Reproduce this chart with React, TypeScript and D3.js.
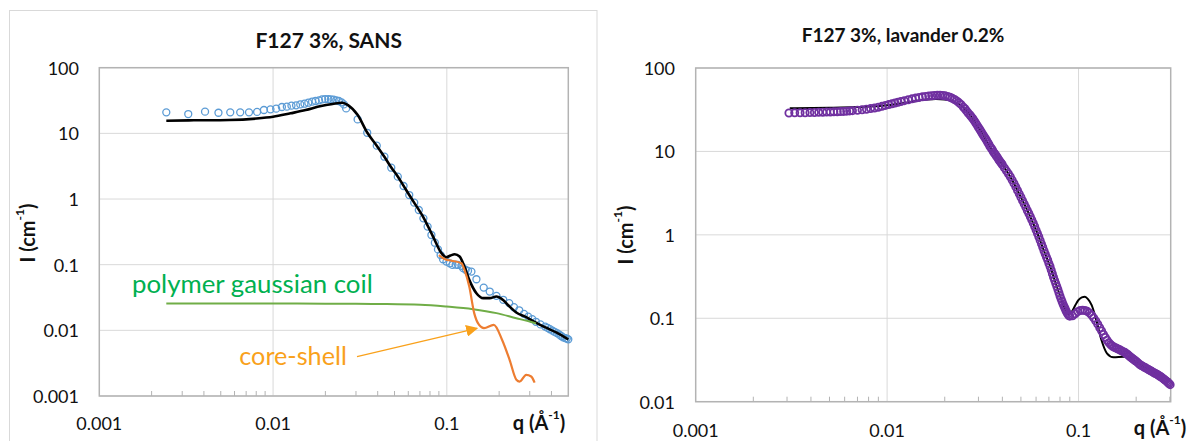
import React from "react";
import * as d3 from "d3";

// ---------- text / ticks ----------
const leftTitle = "F127 3%, SANS";
const rightTitle = "F127 3%, lavander 0.2%";
const xTickValues = [0.001, 0.01, 0.1];
const xTickLabels = ["0.001", "0.01", "0.1"];
const leftYTickValues = [100, 10, 1, 0.1, 0.01, 0.001];
const leftYTickLabels = ["100", "10", "1", "0.1", "0.01", "0.001"];
const rightYTickValues = [100, 10, 1, 0.1, 0.01];
const rightYTickLabels = ["100", "10", "1", "0.1", "0.01"];
const coilLabel = "polymer gaussian coil";
const coreLabel = "core-shell";

// ---------- left chart: SANS data ----------
const sansDataQ = [0.00243, 0.00325, 0.00406, 0.00485, 0.00567, 0.00647, 0.00727, 0.00809, 0.00886, 0.00966, 0.01042, 0.01124, 0.012, 0.01276, 0.01356, 0.01434, 0.01516, 0.01595, 0.01677, 0.01756, 0.01838, 0.01914, 0.01994, 0.0208, 0.0215, 0.0223, 0.0231, 0.0239, 0.0248, 0.02555, 0.02633, 0.03066, 0.03481, 0.03951, 0.04372, 0.04788, 0.05221, 0.05634, 0.06076, 0.06491, 0.06898, 0.07329, 0.07749, 0.08151, 0.08532, 0.0889, 0.0921, 0.0951, 0.0995, 0.104, 0.1077, 0.1125, 0.116, 0.1213, 0.124, 0.1284, 0.1324, 0.1385, 0.148, 0.163, 0.1765, 0.193, 0.2111, 0.2285, 0.2433, 0.261, 0.278, 0.2938, 0.31, 0.3257, 0.3457, 0.3678, 0.38, 0.392, 0.405, 0.4168, 0.43, 0.444, 0.455, 0.467, 0.48, 0.49, 0.5];
const sansDataI = [20.9, 19.7, 21.4, 20.6, 20.9, 20.9, 20.9, 21.2, 22.7, 23.2, 23.8, 25.2, 25.5, 26.4, 26.7, 27.6, 28.3, 29.3, 30.4, 31.1, 31.8, 32.9, 33.3, 33.3, 32.9, 32.6, 31.8, 31.1, 29.7, 27.6, 24.0, 16.3, 10.2, 6.49, 4.41, 3.0, 2.19, 1.58, 1.15, 0.88, 0.68, 0.508, 0.38, 0.283, 0.216, 0.171, 0.14, 0.121, 0.1115, 0.105, 0.0993, 0.1, 0.099, 0.096, 0.0885, 0.0834, 0.0805, 0.0785, 0.06, 0.0448, 0.039, 0.0335, 0.0292, 0.026, 0.0225, 0.0202, 0.0178, 0.0162, 0.0148, 0.0135, 0.0123, 0.0114, 0.0109, 0.0104, 0.0099, 0.0095, 0.0091, 0.0086, 0.0082, 0.0078, 0.0076, 0.0075, 0.0073];

const sansFitQ = [0.00243, 0.0035, 0.0056, 0.008, 0.01, 0.0126, 0.0154, 0.0189, 0.022, 0.025, 0.027, 0.0307, 0.0348, 0.0395, 0.0437, 0.048, 0.0522, 0.0563, 0.0608, 0.064, 0.0729, 0.0833, 0.0931, 0.0995, 0.105, 0.111, 0.1184, 0.1262, 0.1346, 0.148, 0.162, 0.1765, 0.1928, 0.2098, 0.2297, 0.251, 0.2863, 0.3257, 0.372, 0.426, 0.5];
const sansFitI = [15.6, 15.8, 16.0, 16.8, 17.9, 20.2, 22.6, 26.1, 28.0, 29.3, 27.0, 19.0, 10.3, 6.5, 4.4, 3.0, 2.2, 1.6, 1.15, 0.93, 0.54, 0.268, 0.15, 0.13, 0.138, 0.144, 0.133, 0.0935, 0.0587, 0.0368, 0.0309, 0.0309, 0.0327, 0.0292, 0.023, 0.0187, 0.0159, 0.0131, 0.011, 0.0093, 0.0073];

const coilQ = [0.00243, 0.005, 0.01, 0.02, 0.03, 0.0411, 0.0705, 0.0995, 0.1414, 0.193, 0.251, 0.3, 0.3257];
const coilI = [0.0256, 0.0256, 0.0256, 0.0255, 0.0254, 0.0252, 0.0245, 0.023, 0.021, 0.0183, 0.0153, 0.0136, 0.0127];

const coreQ = [0.09, 0.0977, 0.1064, 0.1213, 0.1263, 0.1346, 0.1437, 0.1533, 0.1636, 0.1862, 0.2078, 0.2297, 0.2513, 0.2624, 0.2863, 0.3057, 0.32];
const coreI = [0.14, 0.121, 0.115, 0.105, 0.0834, 0.0465, 0.0183, 0.0121, 0.0108, 0.0121, 0.0072, 0.00356, 0.00177, 0.00166, 0.0021, 0.00198, 0.0016];

// ---------- right chart: lavender data ----------
const lavDataQ = [
  0.00307, 0.00329, 0.00351, 0.00373, 0.00395, 0.00417, 0.00439, 0.00461, 0.00483, 0.00505, 0.00527, 0.00549, 0.00571, 0.00593, 0.00615, 0.00637, 0.00659,
  0.007, 0.0074, 0.0078, 0.0082, 0.0086, 0.009, 0.0094, 0.0098, 0.0102, 0.0106, 0.011, 0.0114, 0.0118,
  0.0123, 0.0129, 0.0135, 0.0141, 0.0147, 0.0153, 0.0159, 0.0165, 0.0171, 0.0177, 0.0183, 0.0189, 0.0195, 0.0201, 0.0207, 0.0213, 0.0219, 0.0225, 0.0231, 0.0237, 0.0243,
  0.025, 0.0255, 0.026, 0.0265, 0.0271, 0.0275, 0.028, 0.0285, 0.029, 0.0295, 0.03, 0.0305, 0.031, 0.0315, 0.032, 0.0325, 0.033, 0.0335, 0.034, 0.0345, 0.035, 0.0355, 0.036, 0.0365, 0.037, 0.0375, 0.038, 0.0385, 0.039, 0.0395, 0.04,
  0.041, 0.042, 0.043, 0.044, 0.045, 0.046, 0.047, 0.048, 0.049, 0.05, 0.051, 0.052, 0.053, 0.054, 0.055, 0.056, 0.057, 0.058, 0.059, 0.06, 0.061, 0.062, 0.063, 0.064, 0.065, 0.066, 0.067, 0.068, 0.069, 0.07, 0.071, 0.072, 0.073, 0.074, 0.075, 0.076, 0.077, 0.078, 0.079, 0.08, 0.081, 0.082, 0.083, 0.084, 0.085, 0.086, 0.087, 0.088, 0.089, 0.09,
  0.093, 0.096, 0.099, 0.102, 0.105, 0.108, 0.111, 0.114, 0.117, 0.12, 0.123, 0.126, 0.129, 0.132, 0.135, 0.138, 0.141, 0.144, 0.147, 0.15, 0.153, 0.156, 0.159, 0.162, 0.165, 0.168, 0.171, 0.174, 0.177, 0.18, 0.183, 0.186, 0.189, 0.192, 0.195, 0.198, 0.201,
  0.205, 0.209, 0.213, 0.217, 0.221, 0.225, 0.229, 0.233, 0.237, 0.241, 0.245, 0.249, 0.253, 0.257, 0.261, 0.265, 0.269, 0.273, 0.277, 0.281, 0.285, 0.289, 0.293, 0.297, 0.301,
];
const lavDataI = [
  28.9, 29.0, 29.0, 29.1, 29.2, 29.3, 29.4, 29.5, 29.6, 29.7, 29.8, 29.9, 30.0, 30.2, 30.4, 30.6, 30.8,
  31.1, 31.5, 32.0, 32.6, 33.2, 33.8, 34.7, 35.6, 36.4, 37.2, 38.0, 38.8, 39.6,
  40.6, 41.6, 42.7, 43.6, 44.4, 45.1, 45.6, 46.1, 46.5, 46.9, 47.1, 47.1, 46.9, 46.4, 45.6, 44.6, 43.3, 41.9, 40.3, 38.5, 36.6,
  34.0, 32.5, 30.6, 28.9, 27.3, 26.1, 24.8, 23.4, 22.0, 20.7, 19.4, 18.3, 17.2, 16.2, 15.3, 14.5, 13.7, 12.9, 12.2, 11.4, 10.9, 10.4, 9.8, 9.4, 9.0, 8.6, 8.2, 7.8, 7.5, 7.24, 6.93,
  6.35, 5.85, 5.4, 4.97, 4.53, 4.14, 3.76, 3.41, 3.1, 2.82, 2.57, 2.35, 2.15, 1.96, 1.8, 1.65, 1.51, 1.38, 1.26, 1.14, 1.04, 0.95, 0.86, 0.78, 0.71, 0.645, 0.59, 0.54, 0.5, 0.455, 0.418, 0.378, 0.342, 0.31, 0.285, 0.262, 0.241, 0.221, 0.202, 0.185, 0.171, 0.159, 0.148, 0.139, 0.131, 0.123, 0.117, 0.112, 0.108, 0.106,
  0.107, 0.113, 0.12, 0.124, 0.125, 0.124, 0.121, 0.116, 0.109, 0.101, 0.093, 0.085, 0.077, 0.0705, 0.064, 0.059, 0.0545, 0.051, 0.0485, 0.0465, 0.0453, 0.0443, 0.0433, 0.0425, 0.0416, 0.0406, 0.0398, 0.0391, 0.038, 0.037, 0.0358, 0.0346, 0.0336, 0.0327, 0.0318, 0.031, 0.0302,
  0.029, 0.0279, 0.0272, 0.0265, 0.0259, 0.0253, 0.0247, 0.0241, 0.0236, 0.0231, 0.0226, 0.0221, 0.0217, 0.0213, 0.0208, 0.0203, 0.0199, 0.0194, 0.0189, 0.0184, 0.018, 0.0175, 0.017, 0.0165, 0.016,
];

const lavFitQ = [0.0031, 0.005, 0.007, 0.01, 0.013, 0.016, 0.018, 0.02, 0.022, 0.024, 0.027, 0.0306, 0.0345, 0.039, 0.044, 0.0488, 0.055, 0.061, 0.0657, 0.0711, 0.0771, 0.0834, 0.088, 0.0923, 0.096, 0.0998, 0.104, 0.108, 0.112, 0.1171, 0.1238, 0.1317, 0.1407, 0.1525, 0.172, 0.186, 0.195, 0.21, 0.24, 0.27, 0.303];
const lavFitI = [32.9, 33.3, 34.0, 35.8, 39.0, 41.8, 42.5, 42.0, 40.0, 36.5, 27.5, 18.0, 11.4, 7.5, 4.97, 3.15, 1.8, 1.04, 0.658, 0.415, 0.239, 0.144, 0.112, 0.12, 0.142, 0.165, 0.178, 0.181, 0.17, 0.144, 0.095, 0.0548, 0.038, 0.034, 0.0345, 0.0345, 0.031, 0.0275, 0.0236, 0.0205, 0.0182];

// ---------- helpers ----------
const FONT = "Lato, 'Open Sans', 'DejaVu Sans', sans-serif";
const GRID = "#d9d9d9";
const AXIS = "#b3b3b3";

type PanelProps = {
  x0: number; x1: number; y0: number; y1: number;
  xMax: number; yMin: number; yMax: number;
  yTickValues: number[]; yTickLabels: string[];
  yLabelX: number; xLabelY: number;
  children: (xs: d3.ScaleLogarithmic<number, number>, ys: d3.ScaleLogarithmic<number, number>) => React.ReactNode;
};

function Frame({ x0, x1, y0, y1, xMax, yMin, yMax, yTickValues, yTickLabels, yLabelX, xLabelY, children }: PanelProps) {
  const xs = d3.scaleLog().domain([0.001, xMax]).range([x0, x1]);
  const ys = d3.scaleLog().domain([yMin, yMax]).range([y1, y0]);
  const minor: number[] = [];
  for (const dec of [0.001, 0.01, 0.1]) {
    for (let k = 2; k <= 9; k++) {
      const v = dec * k;
      if (v < xMax * 0.999) minor.push(v);
    }
  }
  return (
    <g>
      {yTickValues.map((v) => (
        <line key={"hg" + v} x1={x0} x2={x1} y1={ys(v)} y2={ys(v)} stroke={GRID} strokeWidth={1} />
      ))}
      {xTickValues.slice(1).map((v) => (
        <line key={"vg" + v} x1={xs(v)} x2={xs(v)} y1={y0} y2={y1} stroke={GRID} strokeWidth={1} />
      ))}
      {minor.map((v) => (
        <line key={"mt" + v} x1={xs(v)} x2={xs(v)} y1={y1} y2={y1 - 5} stroke={AXIS} strokeWidth={1} />
      ))}
      <rect x={x0} y={y0} width={x1 - x0} height={y1 - y0} fill="none" stroke={AXIS} strokeWidth={1.5} />
      {children(xs, ys)}
      {yTickValues.map((v, i) => (
        <text key={"yl" + v} x={yLabelX} y={ys(v)} textAnchor="end" dominantBaseline="central" fontSize={18} fill="#111">
          {yTickLabels[i]}
        </text>
      ))}
      {xTickValues.map((v, i) => (
        <text key={"xl" + v} x={xs(v)} y={xLabelY} textAnchor="middle" dominantBaseline="central" fontSize={18} fill="#111">
          {xTickLabels[i]}
        </text>
      ))}
    </g>
  );
}

function AxisTitles({ qx, qy, ix, iy }: { qx: number; qy: number; ix: number; iy: number }) {
  return (
    <g fontWeight="bold" fontSize={20} fill="#111">
      <text x={qx} y={qy} textAnchor="middle" dominantBaseline="central">
        q (Å<tspan fontSize={12} dy={-8}>-1</tspan><tspan dy={8}>)</tspan>
      </text>
      <text transform={`translate(${ix},${iy}) rotate(-90)`} textAnchor="middle" dominantBaseline="central">
        I (cm<tspan fontSize={12} dy={-8}>-1</tspan><tspan dy={8}>)</tspan>
      </text>
    </g>
  );
}

function zip(a: number[], b: number[]): [number, number][] {
  return a.map((v, i) => [v, b[i]]);
}

export default function App() {
  const sansData = zip(sansDataQ, sansDataI);
  const sansFit = zip(sansFitQ, sansFitI);
  const coil = zip(coilQ, coilI);
  const core = zip(coreQ, coreI);
  const lavData = zip(lavDataQ, lavDataI);
  const lavFit = zip(lavFitQ, lavFitI);

  const mkLine = (xs: any, ys: any) =>
    d3.line<[number, number]>().x((d) => xs(d[0])).y((d) => ys(d[1])).curve(d3.curveMonotoneX);

  return (
    <svg width={1197} height={441} style={{ position: "absolute", left: 0, top: 0, background: "#fff" }} fontFamily={FONT}>
      <rect x={0} y={0} width={1197} height={441} fill="#fff" />
      {/* left chart outer border */}
      <rect x={9.5} y={10.5} width={587.5} height={450} fill="none" stroke="#d9d9d9" strokeWidth={1} />
      <text x={328.7} y={39} textAnchor="middle" dominantBaseline="central" fontWeight="bold" fontSize={21} fill="#111">
        {leftTitle}
      </text>
      <Frame x0={99.3} x1={568.3} y0={67.7} y1={396} xMax={0.5} yMin={0.001} yMax={100}
        yTickValues={leftYTickValues} yTickLabels={leftYTickLabels} yLabelX={79} xLabelY={423}>
        {(xs, ys) => {
          const line = mkLine(xs, ys);
          return (
            <g>
              {sansData.map((d, i) => (
                <circle key={i} cx={xs(d[0])} cy={ys(d[1])} r={3.5} fill="none" stroke="#5b9bd5" strokeWidth={1.3} />
              ))}
              <path d={line(sansFit) || ""} fill="none" stroke="#000" strokeWidth={2.6} />
              <path d={line(coil) || ""} fill="none" stroke="#70ad47" strokeWidth={2} />
              <path d={line(core) || ""} fill="none" stroke="#ed7d31" strokeWidth={2.2} />
            </g>
          );
        }}
      </Frame>
      <AxisTitles qx={539} qy={422} ix={26.8} iy={233} />
      <text x={132} y={293.3} fontSize={25.8} fill="#00b050">{coilLabel}</text>
      <text x={239.3} y={355} dominantBaseline="central" fontSize={25.2} fill="#f9a11b">{coreLabel}</text>
      <defs>
        <marker id="arrowHead" viewBox="0 0 10 10" refX={9} refY={5} markerWidth={12} markerHeight={12} markerUnits="userSpaceOnUse" orient="auto">
          <path d="M0,0 L10,5 L0,10 z" fill="#f9a11b" />
        </marker>
      </defs>
      <line x1={357} y1={356.7} x2={477} y2={328.3} stroke="#f9a11b" strokeWidth={1.2} markerEnd="url(#arrowHead)" />

      {/* right chart */}
      <text x={903} y={34} textAnchor="middle" dominantBaseline="central" fontWeight="bold" fontSize={19} fill="#111">
        {rightTitle}
      </text>
      <Frame x0={695.7} x1={1170.7} y0={68} y1={401.7} xMax={0.303} yMin={0.01} yMax={100}
        yTickValues={rightYTickValues} yTickLabels={rightYTickLabels} yLabelX={675} xLabelY={430}>
        {(xs, ys) => {
          const line = mkLine(xs, ys);
          return (
            <g>
              <path d={line(lavFit) || ""} fill="none" stroke="#000" strokeWidth={2} />
              {lavData.map((d, i) => (
                <circle key={i} cx={xs(d[0])} cy={ys(d[1])} r={3.6} fill="none" stroke="#7030a0" strokeWidth={1.8} />
              ))}
            </g>
          );
        }}
      </Frame>
      <AxisTitles qx={1160} qy={427} ix={624.7} iy={235} />
    </svg>
  );
}
